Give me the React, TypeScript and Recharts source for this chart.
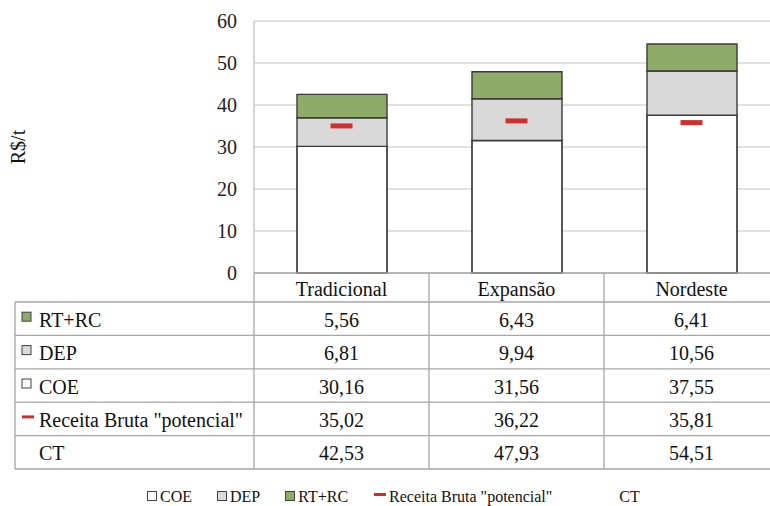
import { ComposedChart, Bar, Line, XAxis, YAxis, CartesianGrid, Legend } from "recharts"

const regions = ["Tradicional", "Expansão", "Nordeste"]
const coe = [30.16, 31.56, 37.55]
const dep = [6.81, 9.94, 10.56]
const rtrc = [5.56, 6.43, 6.41]
const receita = [35.02, 36.22, 35.81]
const ct = [42.53, 47.93, 54.51]
const yTicks = [0, 10, 20, 30, 40, 50, 60]

const data = regions.map((region, i) => ({
  region,
  coe: coe[i],
  dep: dep[i],
  rtrc: rtrc[i],
  receita: receita[i],
}))

const FONT = "Liberation Serif"
const GREEN = "#8eab67"
const GRAY = "#d9d9d9"
const RED = "#d0302c"
const EDGE = "#3a3a3a"
const TABLE_LINE = "#a6a6a6"

// chart geometry (the plot runs past the right edge of the frame)
const W = 790
const H = 506
const M = { top: 21, right: 11, left: 0, bottom: 0 }
const Y_AXIS_W = 254
const X_AXIS_H = 233
const BAND = (W - M.right - Y_AXIS_W) / regions.length
const TABLE_LEFT = 15
const HEADER_H = 29
const ROW_H = 33.4
const LEGEND_GAPS = [25, 25, 26, 67, 0]

type Icon = "box" | "dash" | "none"
const tableRows: { label: string; icon: Icon; fill?: string; values: number[] }[] = [
  { label: "RT+RC", icon: "box", fill: GREEN, values: rtrc },
  { label: "DEP", icon: "box", fill: GRAY, values: dep },
  { label: "COE", icon: "box", fill: "#fff", values: coe },
  { label: 'Receita Bruta "potencial"', icon: "dash", fill: RED, values: receita },
  { label: "CT", icon: "none", values: ct },
]

const legendItems: { label: string; icon: Icon; fill?: string }[] = [
  { label: "COE", icon: "box", fill: "#fff" },
  { label: "DEP", icon: "box", fill: GRAY },
  { label: "RT+RC", icon: "box", fill: GREEN },
  { label: 'Receita Bruta "potencial"', icon: "dash", fill: RED },
  { label: "CT", icon: "none" },
]

const fmt = (v: number) => v.toFixed(2).replace(".", ",")

function SvgIcon({ icon, fill, x, cy }: { icon: Icon; fill?: string; x: number; cy: number }) {
  if (icon === "box")
    return <rect x={x} y={cy - 4.5} width={9} height={9} fill={fill} stroke="#404040" strokeWidth={1} />
  if (icon === "dash") return <rect x={x} y={cy - 1.5} width={12} height={3} fill={fill} />
  return null
}

// left-hand label column of the data table
function RowLabels({ top, right }: { top: number; right: number }) {
  const bottom = top + tableRows.length * ROW_H
  return (
    <g>
      {tableRows.map((_, r) => (
        <line key={`h${r}`} x1={TABLE_LEFT} x2={right} y1={top + r * ROW_H} y2={top + r * ROW_H} stroke={TABLE_LINE} strokeWidth={1.3} />
      ))}
      <line x1={TABLE_LEFT} x2={right} y1={bottom} y2={bottom} stroke={TABLE_LINE} strokeWidth={1.3} />
      <line x1={TABLE_LEFT} x2={TABLE_LEFT} y1={top} y2={bottom} stroke={TABLE_LINE} strokeWidth={1.3} />
      {tableRows.map((row, r) => {
        const cy = top + r * ROW_H + ROW_H / 2
        return (
          <g key={row.label}>
            <SvgIcon icon={row.icon} fill={row.fill} x={22} cy={cy - 2} />
            <text x={39} y={cy + 1} dominantBaseline="central" fontFamily={FONT} fontSize={20} fill="#111">
              {row.label}
            </text>
          </g>
        )
      })}
    </g>
  )
}

// each x-axis tick draws one column of the data table under its bar
function TableColumn(props: any) {
  const { x, y, index, payload } = props
  const left = x - BAND / 2
  const right = x + BAND / 2
  const top = y + HEADER_H
  const bottom = top + tableRows.length * ROW_H
  return (
    <g>
      {index === 0 && <RowLabels top={top} right={W - M.right} />}
      {index === 0 && <line x1={left} x2={left} y1={y} y2={bottom} stroke={TABLE_LINE} strokeWidth={1.3} />}
      <line x1={right} x2={right} y1={y} y2={bottom} stroke={TABLE_LINE} strokeWidth={1.3} />
      <text x={x} y={y + HEADER_H / 2 + 1} textAnchor="middle" dominantBaseline="central" fontFamily={FONT} fontSize={20} fill="#111">
        {payload.value}
      </text>
      {tableRows.map((row, r) => (
        <text
          key={row.label}
          x={x}
          y={top + r * ROW_H + ROW_H / 2 + 1}
          textAnchor="middle"
          dominantBaseline="central"
          fontFamily={FONT}
          fontSize={20}
          fill="#111"
        >
          {fmt(row.values[index])}
        </text>
      ))}
    </g>
  )
}

function RevenueMark(props: any) {
  const { cx, cy } = props
  if (cx == null || cy == null) return <g />
  return <rect x={cx - 11} y={cy - 2.5} width={22} height={5} fill={RED} />
}

function LegendRow() {
  return (
    <div style={{ display: "flex", alignItems: "center", fontFamily: FONT, fontSize: 16, color: "#111", whiteSpace: "nowrap" }}>
      {legendItems.map((item, i) => (
        <div key={item.label} style={{ display: "flex", alignItems: "center", marginRight: LEGEND_GAPS[i] }}>
          {item.icon === "box" && (
            <span style={{ width: 8, height: 8, background: item.fill, border: "1px solid #404040", marginRight: 3, marginTop: -3 }} />
          )}
          {item.icon === "dash" && <span style={{ width: 12, height: 3, background: item.fill, marginRight: 3, marginTop: -5 }} />}
          <span>{item.label}</span>
        </div>
      ))}
    </div>
  )
}

function YLabel(props: any) {
  const { viewBox } = props
  const cy = viewBox.y + viewBox.height / 2
  return (
    <text x={18} y={cy} transform={`rotate(-90, 18, ${cy})`} textAnchor="middle" dominantBaseline="central" fontFamily={FONT} fontSize={20} fill="#111">
      R$/t
    </text>
  )
}

export default function App() {
  return (
    <div style={{ position: "absolute", top: 0, left: 0, width: 770, height: 506, overflow: "hidden", background: "#fff" }}>
      <ComposedChart width={W} height={H} data={data} margin={M}>
        <CartesianGrid vertical={false} stroke="#d9d9d9" strokeWidth={1.3} />
        <XAxis
          dataKey="region"
          height={X_AXIS_H}
          interval={0}
          tickLine={false}
          tickSize={0}
          tickMargin={0}
          axisLine={{ stroke: TABLE_LINE, strokeWidth: 1.3 }}
          tick={<TableColumn />}
        />
        <YAxis
          width={Y_AXIS_W}
          domain={[0, 60]}
          ticks={yTicks}
          tickLine={false}
          tickSize={0}
          tickMargin={17}
          axisLine={{ stroke: "#bfbfbf", strokeWidth: 1.3 }}
          tick={{ fontFamily: FONT, fontSize: 20, fill: "#222" }}
          label={<YLabel />}
        />
        <Bar dataKey="coe" name="COE" stackId="a" fill="#fff" stroke="#111" strokeWidth={1.4} barSize={90} isAnimationActive={false} />
        <Bar dataKey="dep" name="DEP" stackId="a" fill={GRAY} stroke={EDGE} strokeWidth={1.4} barSize={90} isAnimationActive={false} />
        <Bar dataKey="rtrc" name="RT+RC" stackId="a" fill={GREEN} stroke={EDGE} strokeWidth={1.4} barSize={90} isAnimationActive={false} />
        <Line
          dataKey="receita"
          name='Receita Bruta "potencial"'
          stroke="none"
          dot={<RevenueMark />}
          activeDot={false}
          isAnimationActive={false}
        />
        <Legend
          layout="horizontal"
          verticalAlign="middle"
          align="center"
          wrapperStyle={{ top: 488, left: 147, width: "auto" }}
          content={() => <LegendRow />}
        />
      </ComposedChart>
    </div>
  )
}
